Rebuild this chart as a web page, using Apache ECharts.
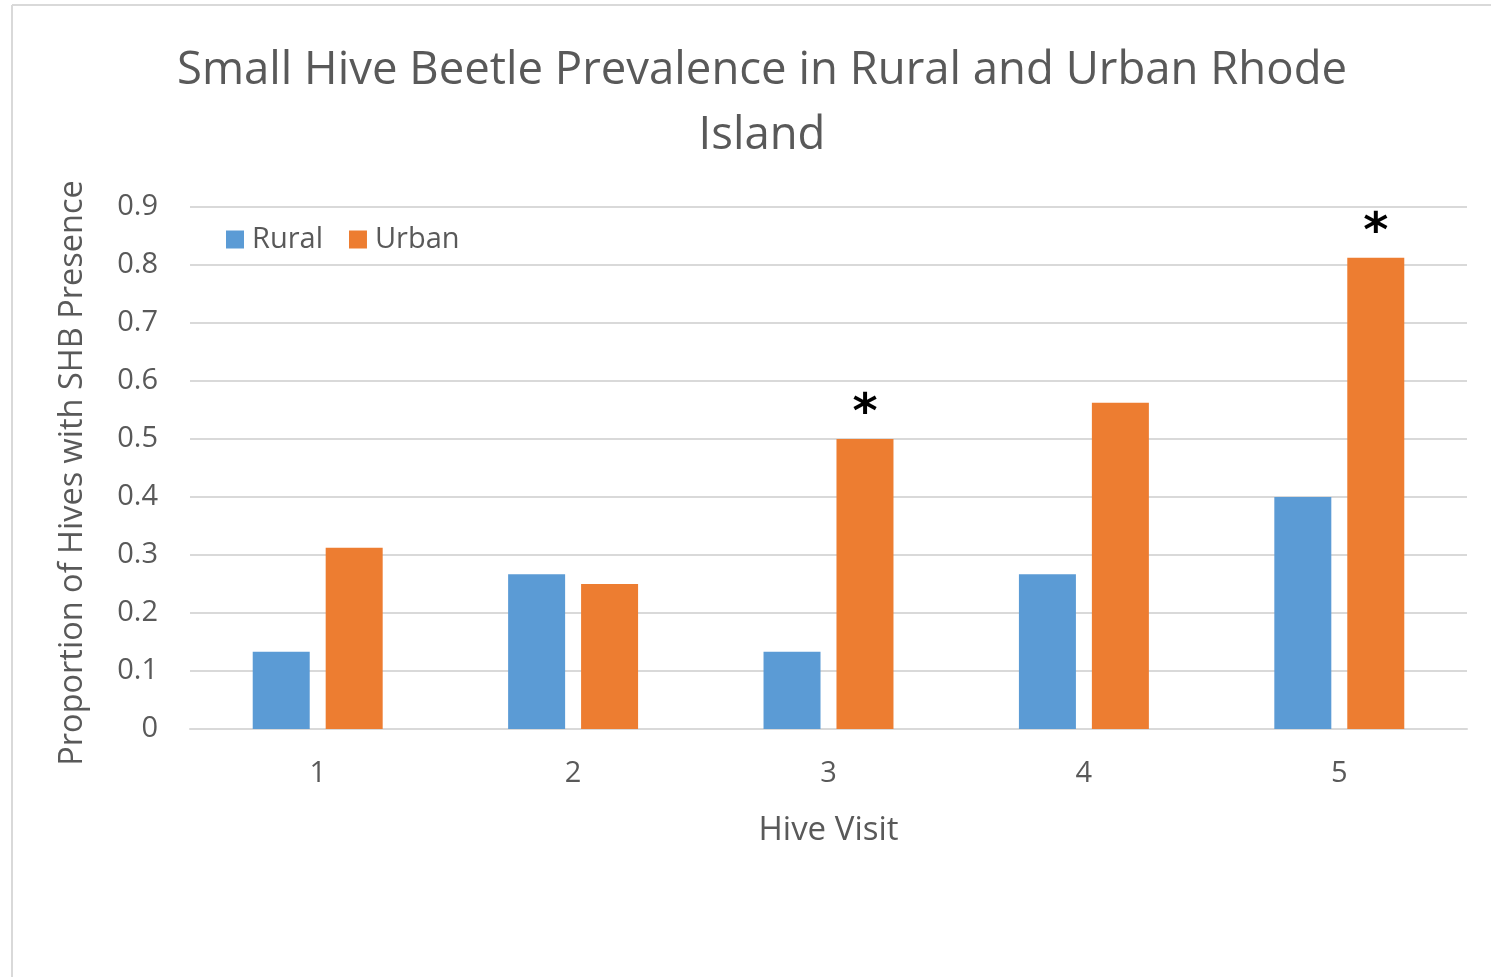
<!DOCTYPE html>
<html><head><meta charset="utf-8">
<script src="https://cdn.jsdelivr.net/npm/echarts@6/dist/echarts.min.js"></script>
<style>html,body{margin:0;padding:0;background:#fff}#c{width:1491px;height:977px}</style>
</head><body><div id="c"></div>
<script>
const categories = ['1','2','3','4','5'];
const rural = [0.1333, 0.2667, 0.1333, 0.2667, 0.4];
const urban = [0.3125, 0.25, 0.5, 0.5625, 0.8125];
const significance = ['', '', '*', '', '*'];
const yTicks = [0, 0.1, 0.2, 0.3, 0.4, 0.5, 0.6, 0.7, 0.8, 0.9];

const FONT = 'Open Sans';
const chart = echarts.init(document.getElementById('c'));
chart.setOption({
  backgroundColor: '#fff',
  animation: false,
  textStyle: {fontFamily: FONT},
  title: {
    text: 'Small Hive Beetle Prevalence in Rural and Urban Rhode\nIsland',
    left: 757, top: 34, textAlign: 'center',
    textStyle: {fontFamily: FONT, fontSize: 45.5, fontWeight: 'normal', color: '#595959', lineHeight: 65}
  },
  legend: {
    left: 221, top: 220, itemWidth: 18, itemHeight: 18, itemGap: 26,
    icon: 'rect',
    textStyle: {fontFamily: FONT, fontSize: 29, color: '#595959', padding: [0,0,0,3]},
    data: ['Rural', 'Urban']
  },
  grid: {left: 190, right: 24, top: 207, bottom: 248, containLabel: false},
  xAxis: {
    type: 'category', data: categories,
    name: 'Hive Visit', nameLocation: 'middle', nameGap: 85,
    nameTextStyle: {fontFamily: FONT, fontSize: 33, color: '#595959'},
    axisLine: {lineStyle: {color: '#d9d9d9', width: 2}},
    axisTick: {show: false},
    axisLabel: {fontFamily: FONT, fontSize: 29, color: '#595959', margin: 30}
  },
  yAxis: {
    type: 'value', min: 0, max: 0.9, interval: 0.1,
    name: 'Proportion of Hives with SHB Presence', nameLocation: 'middle', nameGap: 101,
    nameTextStyle: {fontFamily: FONT, fontSize: 32.5, color: '#595959', padding: [0, 10, 0, 0]},
    axisLine: {show: false}, axisTick: {show: false},
    splitLine: {lineStyle: {color: '#d9d9d9', width: 2}},
    axisLabel: {fontFamily: FONT, fontSize: 29, color: '#595959', margin: 32,
      formatter: v => { const t = yTicks.find(x => Math.abs(x - v) < 1e-9); return t === undefined ? '' : String(t); }}
  },
  series: [
    {name: 'Rural', type: 'bar', data: rural, barWidth: 57, barGap: '28%',
     itemStyle: {color: '#5B9BD5'}},
    {name: 'Urban', type: 'bar', barWidth: 57,
     itemStyle: {color: '#ED7D31'},
     data: urban.map((v, i) => ({
       value: v,
       label: {show: significance[i] !== '', formatter: significance[i], position: 'top',
         distance: 0, fontSize: 48, fontWeight: 'bold', color: '#000', fontFamily: 'DejaVu Sans'}
     }))}
  ],
  graphic: [
    {type: 'line', shape: {x1: 12, y1: 5, x2: 1491, y2: 5}, style: {stroke: '#d9d9d9', lineWidth: 2}, silent: true},
    {type: 'line', shape: {x1: 12, y1: 5, x2: 12, y2: 977}, style: {stroke: '#d9d9d9', lineWidth: 2}, silent: true}
  ]
});
</script></body></html>
